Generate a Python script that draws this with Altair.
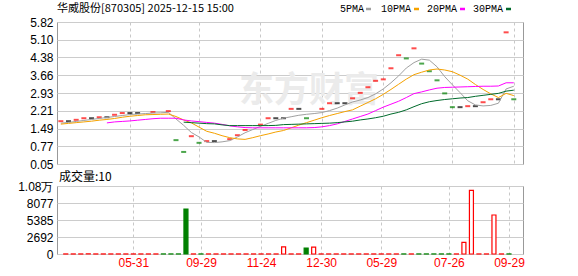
import altair as alt
import pandas as pd

# ---------------- data ----------------
idx = list(range(60))
close = [1.79, 1.79, 1.845, 1.91, 1.91, 1.95, 1.95, 2.05, 2.12, 2.12,
         2.12, None, 2.16, None, 2.20, 1.02, 0.54, 1.18, 0.91, 0.98,
         0.98, None, 1.06, 1.22, 1.43, None, 1.65, 1.91, 1.91, 1.91,
         2.29, 2.29, 1.91, None, 2.29, 2.52, 2.52, 2.52, 2.72, 2.94,
         3.17, 3.43, 3.49, 3.94, 4.47, 4.34, 4.75, 4.13, 3.82, 3.45,
         2.92, 2.36, 2.36, 2.40, 2.40, 2.56, 2.68, 2.68, 5.40, 2.68]
cdir = ["up", "flat", "up", "up", "flat", "up", "flat", "up", "up", "flat",
        "flat", "flat", "up", "down", "up", "down", "down", "up", "down", "up",
        "flat", "flat", "up", "up", "up", "up", "up", "up", "flat", "flat",
        "up", "flat", "down", "up", "up", "up", "flat", "flat", "up", "up",
        "up", "up", "up", "up", "up", "down", "up", "down", "down", "down",
        "down", "down", "flat", "up", "flat", "up", "up", "flat", "up", "down"]
volume = [10, 10, 10, 10, 10, 10, 10, 10, 10, 10,
          10, 10, 10, 10, 10, 10, 7130, 10, 10, 10,
          10, 10, 10, 10, 10, 10, 10, 10, 10, 1140,
          10, 10, 950, 1100, 10, 10, 10, 10, 10, 10,
          10, 10, 10, 10, 10, 10, 10, 10, 10, 10,
          10, 10, 10, 1850, 10090, 10, 10, 6180, 10, 10]
vdir = ["vu", "vu", "vu", "vu", "vu", "vu", "vu", "vu", "vu", "vu",
        "vu", "vu", "vu", "vd", "vd", "vd", "vd", "vu", "vd", "vu",
        "vu", "vu", "vu", "vu", "vu", "vu", "vu", "vu", "vu", "vu",
        "vu", "vu", "vd", "vu", "vu", "vu", "vu", "vu", "vu", "vu",
        "vu", "vu", "vu", "vu", "vu", "vd", "vu", "vd", "vd", "vd",
        "vd", "vd", "vu", "vu", "vu", "vu", "vu", "vu", "vu", "vd"]
ma5 = [1.71, 1.74, 1.78, 1.82, 1.86, 1.90, 1.94, 1.98, 2.02, 2.06,
       2.08, 2.10, 2.12, 2.13, 2.15, 1.88, 1.62, 1.33, 1.15, 0.93,
       0.92, 0.95, 1.00, 1.15, 1.32, 1.45, 1.58, 1.70, 1.82, 1.91,
       1.97, 2.03, 2.07, 2.10, 2.14, 2.22, 2.32, 2.45, 2.57, 2.65,
       2.75, 2.90, 3.10, 3.35, 3.63, 3.95, 4.17, 4.31, 4.27, 4.00,
       3.60, 3.27, 2.95, 2.62, 2.45, 2.41, 2.43, 2.52, 3.10, 3.21]
ma10 = [1.67, 1.70, 1.73, 1.76, 1.79, 1.83, 1.86, 1.90, 1.95, 1.99,
        2.02, 2.05, 2.06, 2.07, 2.08, 1.98, 1.84, 1.72, 1.55, 1.38,
        1.30, 1.20, 1.12, 1.07, 1.05, 1.12, 1.20, 1.27, 1.35, 1.41,
        1.52, 1.63, 1.73, 1.83, 1.93, 2.02, 2.10, 2.18, 2.25, 2.40,
        2.55, 2.70, 2.88, 3.08, 3.29, 3.50, 3.68, 3.78, 3.87, 3.91,
        3.87, 3.80, 3.66, 3.50, 3.28, 3.08, 2.90, 2.75, 2.92, 2.83]
ma20 = [None, None, None, None, None, None, 1.72, 1.76, 1.78, 1.80,
        1.83, 1.86, 1.89, 1.91, 1.91, 1.91, 1.84, 1.80, 1.77, 1.74,
        1.71, 1.66, 1.60, 1.56, 1.53, 1.52, 1.52, 1.52, 1.52, 1.52,
        1.52, 1.52, 1.52, 1.53, 1.56, 1.61, 1.68, 1.78, 1.88, 1.98,
        2.08, 2.22, 2.36, 2.48, 2.60, 2.75, 2.91, 2.98, 3.06, 3.13,
        3.16, 3.17, 3.18, 3.19, 3.20, 3.21, 3.21, 3.22, 3.35, 3.35]
ma30 = [None] * 16 + [
        1.75, 1.73, 1.71, 1.69,
        1.68, 1.64, 1.61, 1.61, 1.61, 1.61, 1.61, 1.61, 1.62, 1.65,
        1.66, 1.67, 1.68, 1.69, 1.70, 1.71, 1.73, 1.76, 1.79, 1.84,
        1.88, 1.93, 1.99, 2.08, 2.15, 2.25, 2.38, 2.50, 2.58, 2.63,
        2.67, 2.70, 2.73, 2.75, 2.80, 2.84, 2.88, 2.92, 3.01, 3.05]

date_idx = [9, 18, 26, 34, 42, 51, 59]
date_lab = ["05-31", "09-29", "11-24", "12-30", "05-29", "07-26", "09-29"]
price_ticks = [0.05, 0.77, 1.49, 2.21, 2.93, 3.66, 4.38, 5.10, 5.82]
vol_ticks = [0, 2692, 5385, 8077, 10770]
vol_labels = ["0", "2692", "5385", "8077", "1.08万"]
series = ["5PMA", "10PMA", "20PMA", "30PMA"]
series_col = ["#a0a0a0", "#f5a200", "#ff00ff", "#006a2b"]
title_text = "华威股份[870305] 2025-12-15 15:00"
vol_text = "成交量:10"

# ---------------- tables ----------------
bars = pd.DataFrame({"i": idx, "close": close, "cdir": cdir,
                     "vol": volume, "vdir": vdir})
ma = pd.DataFrame({"i": idx, "5PMA": ma5, "10PMA": ma10,
                   "20PMA": ma20, "30PMA": ma30})
ma_long = ma.melt("i", var_name="s", value_name="v").dropna()

W, H1, H2 = 466, 142, 68
LF = "Liberation Sans"
CJK = "Noto Sans CJK SC"
TOPY = -13

xscale = alt.Scale(domain=[-0.5, 60.2], nice=False, zero=False)
yscale = alt.Scale(domain=[0.05, 5.82], nice=False, zero=False)


def lab_expr(vals, labs):
    parts = []
    for v, l in zip(vals, labs):
        parts.append(f"datum.value == {v} ? '{l}'")
    return " : ".join(parts) + " : ''"


x_axis_main = alt.Axis(values=date_idx, grid=True, gridDash=[3, 3],
                       gridColor="#c8c8c8", labels=False, ticks=False,
                       domain=False, title=None)
y_axis_main = alt.Axis(values=price_ticks, format=".2f", grid=True,
                       gridColor="#cccccc", ticks=False, domain=False,
                       labelPadding=4, labelFont=LF, labelFontSize=12,
                       labelColor="#000000", title=None)

one = pd.DataFrame({"a": [0]})

watermark = alt.Chart(one).mark_text(
    text="东方财富", font=CJK, fontSize=35, fontWeight="bold",
    color="#ebebeb", align="left", baseline="middle"
).encode(x=alt.value(182), y=alt.value(69))

candles = alt.Chart(bars).mark_tick(orient="horizontal", size=5, thickness=2,
                                     strokeWidth=0).encode(
    x=alt.X("i:Q", scale=xscale, axis=x_axis_main),
    y=alt.Y("close:Q", scale=yscale, axis=y_axis_main),
    color=alt.Color("cdir:N", scale=alt.Scale(domain=["up", "down", "flat"],
                    range=["#ff0000", "#008000", "#000000"]), legend=None),
)

lines = alt.Chart(ma_long).mark_line(strokeWidth=1).encode(
    x=alt.X("i:Q", scale=xscale, axis=x_axis_main),
    y=alt.Y("v:Q", scale=yscale, axis=y_axis_main),
    stroke=alt.Stroke("s:N", scale=alt.Scale(domain=series, range=series_col), legend=None),
)

title = alt.Chart(one).mark_text(
    text=title_text, font=CJK, fontSize=11, color="#000000",
    align="left", baseline="middle"
).encode(x=alt.value(0), y=alt.value(TOPY))

legend_layers = []
text_x = [283, 324, 370, 416]
sw_x = [309, 357, 403, 449]
for s, c, tx, sx in zip(series, series_col, text_x, sw_x):
    legend_layers.append(alt.Chart(one).mark_text(
        text=s, font="Liberation Mono", fontSize=10, color="#000000",
        align="left", baseline="middle").encode(x=alt.value(tx), y=alt.value(TOPY)))
    legend_layers.append(alt.Chart(one).mark_rule(color=c, strokeWidth=2.5).encode(
        x=alt.value(sx), x2=alt.value(sx + 5), y=alt.value(TOPY)))

main = alt.layer(watermark, candles, lines, title, *legend_layers).properties(
    width=W, height=H1)

# ---------------- volume panel ----------------
x_vol = alt.X("i:Q", scale=xscale,
              axis=alt.Axis(values=date_idx, grid=True, gridDash=[3, 3],
                            gridColor="#c8c8c8", ticks=False, domain=False,
                            labelExpr=lab_expr(date_idx, date_lab),
                            labelColor="#ff0000", labelFont=LF, labelFontSize=12,
                            labelPadding=3, title=None))
y_vol = alt.Y("vol:Q", scale=alt.Scale(domain=[0, 10770], nice=False, zero=True),
              axis=alt.Axis(values=vol_ticks, grid=True, gridColor="#cccccc",
                            ticks=False, domain=False,
                            labelExpr=lab_expr(vol_ticks, vol_labels),
                            labelPadding=4, labelFont=LF, labelFontSize=12,
                            labelColor="#000000", title=None))

vbars = alt.Chart(bars).mark_bar(size=4, strokeWidth=1.2).encode(
    x=x_vol, y=y_vol,
    fill=alt.Fill("vdir:N", scale=alt.Scale(domain=["vu", "vd"], range=["#ffffff", "#008000"]),
                  legend=None),
    stroke=alt.Stroke("vdir:N", scale=alt.Scale(domain=["vu", "vd"], range=["#ff0000", "#008000"]),
                      legend=None),
)
vlabel = alt.Chart(one).mark_text(
    text=vol_text, font=CJK, fontSize=12, color="#000000",
    align="left", baseline="middle"
).encode(x=alt.value(2), y=alt.value(-9))

vol = alt.layer(vbars, vlabel).properties(width=W, height=H2)

chart = alt.vconcat(main, vol, spacing=22, bounds="flush").resolve_scale(
    color="independent", fill="independent", stroke="independent"
).properties(
    padding={"left": 17, "top": 2, "right": 49, "bottom": 3},
).configure_view(stroke="#999999", strokeWidth=1)

chart.save("out.html", embed_options={"renderer": "svg", "actions": False})
